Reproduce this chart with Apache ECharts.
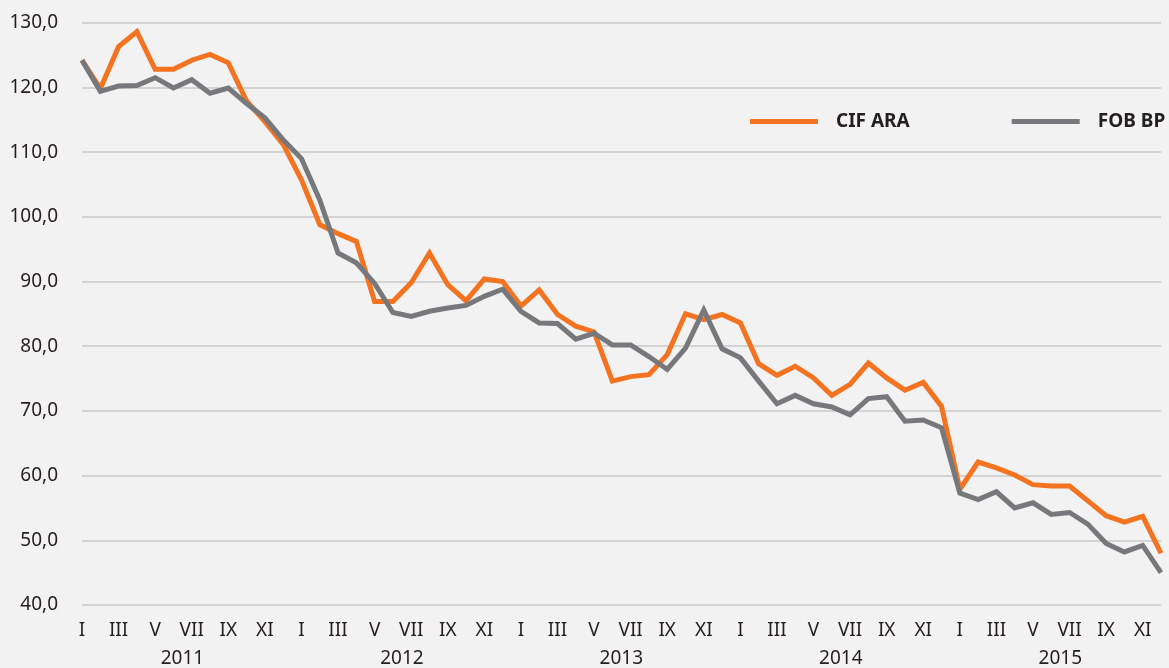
<!DOCTYPE html>
<html>
<head>
<meta charset="utf-8">
<script src="https://cdn.jsdelivr.net/npm/echarts@6/dist/echarts.min.js"></script>
<style>
  html, body { margin: 0; padding: 0; background: #f1f2f1; }
  #chart { width: 1169px; height: 668px; }
</style>
</head>
<body>
<div id="chart"></div>
<script>
const months = ['I','II','III','IV','V','VI','VII','VIII','IX','X','XI','XII'];
const years = ['2011','2012','2013','2014','2015'];
const seriesNames = ['CIF ARA', 'FOB BP'];

const cifAra = [
  124.2, 119.8, 126.3, 128.6, 122.8, 122.8, 124.2, 125.1, 123.8, 117.9, 114.7, 111.2,
  105.7, 98.8, 97.4, 96.2, 86.9, 86.9, 89.8, 94.4, 89.5, 87.0, 90.4, 90.0,
  86.2, 88.7, 84.9, 83.1, 82.2, 74.6, 75.3, 75.6, 78.7, 85.0, 84.1, 84.9,
  83.6, 77.3, 75.5, 76.9, 75.1, 72.4, 74.1, 77.4, 75.1, 73.2, 74.4, 70.7,
  57.9, 62.1, 61.2, 60.1, 58.6, 58.4, 58.4, 56.1, 53.8, 52.8, 53.7, 48.0
];
const fobBp = [
  124.2, 119.4, 120.2, 120.3, 121.5, 119.9, 121.2, 119.1, 119.9, 117.5, 115.3, 111.9,
  109.0, 102.6, 94.4, 92.9, 89.7, 85.2, 84.6, 85.4, 85.9, 86.3, 87.7, 88.8,
  85.4, 83.6, 83.5, 81.1, 82.0, 80.2, 80.2, 78.4, 76.4, 79.7, 85.6, 79.6,
  78.2, 74.6, 71.1, 72.4, 71.1, 70.6, 69.4, 71.9, 72.2, 68.4, 68.6, 67.4,
  57.3, 56.3, 57.5, 55.0, 55.8, 54.0, 54.3, 52.5, 49.5, 48.2, 49.2, 45.0
];

const categories = [];
years.forEach(y => months.forEach(m => categories.push(m + ' ' + y)));

const FONT = '"Noto Sans", "Open Sans", sans-serif';
const TXT = '#231f20';

const chart = echarts.init(document.getElementById('chart'), null, { renderer: 'canvas' });
chart.setOption({
  backgroundColor: '#f1f2f1',
  animation: false,
  grid: { left: 82, right: 8, top: 22.7, bottom: 62.3, containLabel: false },
  legend: {
    data: seriesNames,
    orient: 'horizontal',
    left: 750,
    top: 112,
    width: 419,
    padding: 0,
    icon: 'rect',
    itemWidth: 68,
    itemHeight: 5,
    itemGap: 102,
    textStyle: { fontFamily: FONT, fontSize: 19, fontWeight: 'bold', color: TXT, padding: [0, 0, 0, 13] }
  },
  xAxis: [
    {
      type: 'category',
      data: categories,
      boundaryGap: false,
      axisLine: { show: false },
      axisTick: { show: false },
      splitLine: { show: false },
      axisLabel: {
        interval: 1,
        margin: 16,
        fontFamily: FONT,
        fontSize: 19,
        color: TXT,
        formatter: (v) => v.split(' ')[0]
      }
    },
    {
      type: 'category',
      data: categories,
      boundaryGap: false,
      position: 'bottom',
      axisLine: { show: false },
      axisTick: { show: false },
      splitLine: { show: false },
      axisLabel: {
        interval: (idx) => idx % 12 === 5,
        margin: 44,
        fontFamily: FONT,
        fontSize: 19,
        color: TXT,
        padding: [0, 0, 0, 18],
        formatter: (v) => v.split(' ')[1]
      }
    }
  ],
  yAxis: {
    type: 'value',
    min: 40,
    max: 130,
    interval: 10,
    axisLine: { show: false },
    axisTick: { show: false },
    splitLine: { show: true, lineStyle: { color: '#c8c8c8', width: 1.5 } },
    axisLabel: {
      margin: 24,
      fontFamily: FONT,
      fontSize: 19,
      color: TXT,
      formatter: (v) => v.toFixed(1).replace('.', ',')
    }
  },
  series: [
    {
      name: seriesNames[0],
      type: 'line',
      data: cifAra,
      symbol: 'none',
      showSymbol: false,
      color: '#f47321',
      lineStyle: { color: '#f47321', width: 5, join: 'miter' },
      z: 2
    },
    {
      name: seriesNames[1],
      type: 'line',
      data: fobBp,
      symbol: 'none',
      showSymbol: false,
      color: '#77787b',
      lineStyle: { color: '#77787b', width: 5, join: 'miter' },
      z: 3
    }
  ]
});
</script>
</body>
</html>
